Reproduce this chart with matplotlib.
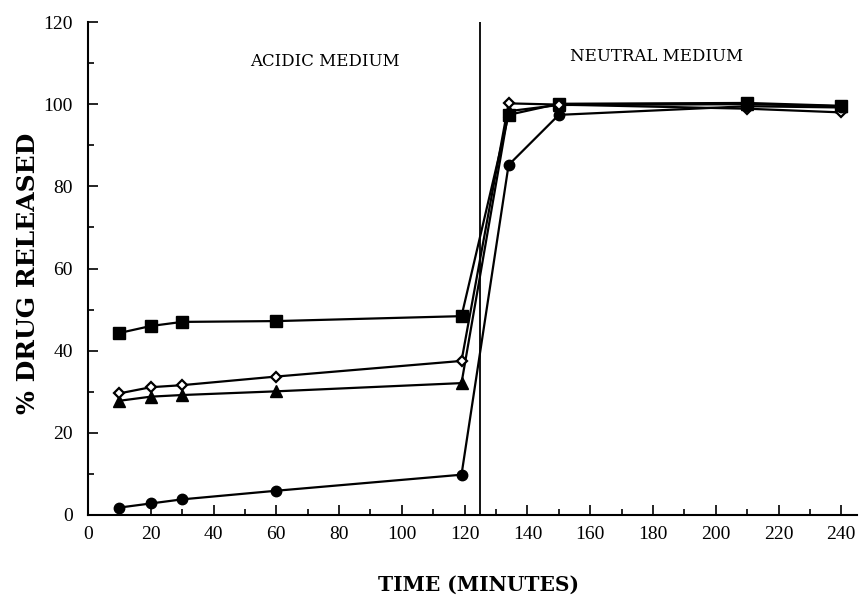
import matplotlib
matplotlib.use("Agg")
import matplotlib.pyplot as plt
from matplotlib.ticker import MultipleLocator

time = [10, 20, 30, 60, 119, 134, 150, 210, 240]
squares = [44.3, 46.0, 47.0, 47.2, 48.4, 97.4, 100.1, 100.3, 99.6]
diamonds = [29.6, 31.1, 31.6, 33.7, 37.5, 100.2, 99.9, 98.9, 98.0]
triangles = [27.8, 28.8, 29.2, 30.1, 32.1, 98.3, 99.8, 100.0, 99.5]
circles = [1.8, 2.8, 3.8, 5.9, 9.8, 85.2, 97.4, 99.5, 99.2]

switch_time = 125

plt.rcParams['font.family'] = ['Liberation Serif', 'DejaVu Serif']

fig = plt.figure(figsize=(8.66, 5.97), dpi=100)
ax = fig.add_axes([0.1016, 0.1374, 0.8880, 0.8257])

lw = 1.6
ax.plot(time, squares, color='black', lw=lw, marker='s', ms=8.5)
ax.plot(time, triangles, color='black', lw=lw, marker='^', ms=8)
ax.plot(time, diamonds, color='black', lw=lw, marker='D', ms=5.5, mfc='white', mew=1.6)
ax.plot(time, circles, color='black', lw=lw, marker='o', ms=7.5)

ax.axvline(switch_time, color='black', lw=1.3)

ax.text(75.5, 110.5, 'ACIDIC MEDIUM', ha='center', va='center', fontsize=12,
        family='DejaVu Serif')
ax.text(181, 111.5, 'NEUTRAL MEDIUM', ha='center', va='center', fontsize=12,
        family='DejaVu Serif')

ax.set_xlim(0, 245)
ax.set_ylim(0, 120)
ax.xaxis.set_major_locator(MultipleLocator(20))
ax.xaxis.set_minor_locator(MultipleLocator(10))
ax.yaxis.set_major_locator(MultipleLocator(20))
ax.yaxis.set_minor_locator(MultipleLocator(10))
ax.tick_params(which='both', direction='in', labelsize=14, width=1.2)
ax.tick_params(which='major', length=7)
ax.tick_params(which='minor', length=4)
ax.tick_params(axis='x', which='major', pad=8)
ax.tick_params(axis='y', which='major', pad=11)
ax.spines['top'].set_visible(False)
ax.spines['right'].set_visible(False)
ax.spines['left'].set_linewidth(1.5)
ax.spines['bottom'].set_linewidth(1.5)

fig.text(478 / 866, 1 - 585 / 597, 'TIME (MINUTES)', ha='center', va='center',
         fontsize=14.5, fontweight='bold', family='DejaVu Serif')
fig.text(28 / 866, 1 - 273 / 597, '% DRUG RELEASED', ha='center', va='center',
         rotation=90, fontsize=18, fontweight='bold', family='DejaVu Serif')

fig.savefig('out.png', dpi=100)
